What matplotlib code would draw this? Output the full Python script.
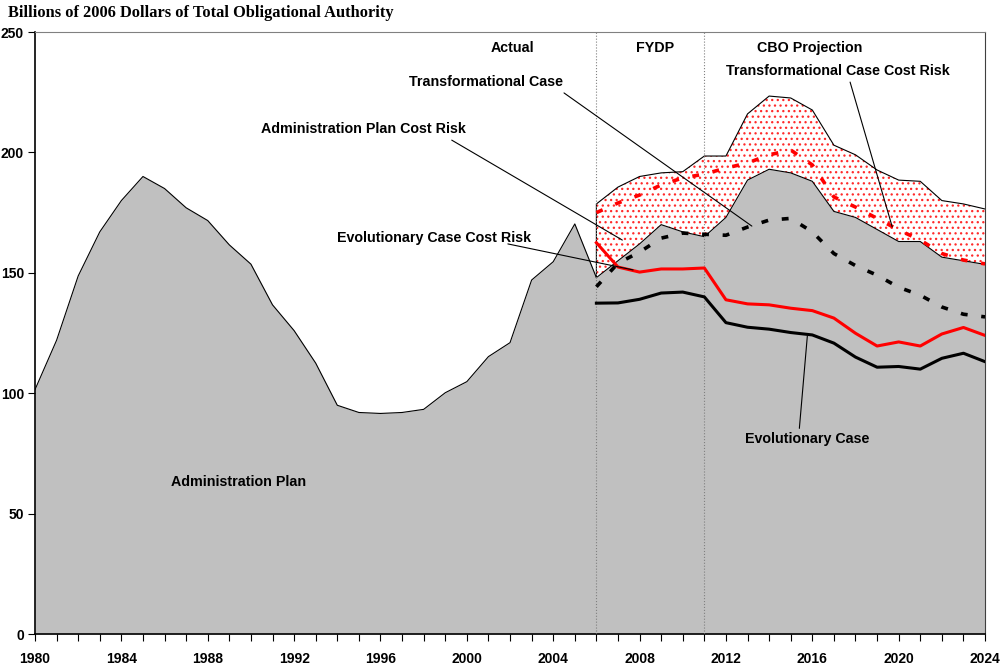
import matplotlib
matplotlib.use('Agg')
import matplotlib.pyplot as plt
import numpy as np

# Administration Plan (gray area), 1980-2024
years = np.arange(1980, 2025)
admin_plan = [101.5, 122, 148.7, 167, 180, 190, 185, 177, 171.7, 161.6,
              153.6, 136.7, 126, 112.5, 95, 92, 91.6, 92, 93.3, 100.2,
              104.8, 115.2, 121, 147, 154.6, 170.3, 148, 155, 162, 170,
              167, 165, 173, 188.5, 193, 191.5, 188, 175.5, 173, 168,
              163, 163, 156.5, 155, 153.5]

# projection period 2006-2024
proj_years = np.arange(2006, 2025)
admin_cost_risk_top = [178.6, 185.6, 190, 191.5, 192, 198.5, 198.5, 216, 223.4, 222.6,
                       217.6, 203, 199, 192.7, 188.5, 188, 180, 178.6, 176.5]
transf_cost_risk = [175, 179, 182.3, 186.5, 189.4, 191, 193.5, 195.6, 199, 201,
                    194.8, 181.5, 177.3, 172.6, 167.8, 163.6, 158, 155.3, 153.7]
transf_case = [144.2, 154, 158.6, 164.4, 166.5, 166, 165.6, 169, 171.9, 172.6,
               167, 158, 153, 149, 144, 140.7, 135.8, 132.8, 131.7]
evol_cost_risk = [162.5, 152.4, 150.3, 151.6, 151.6, 152, 138.8, 137.1, 136.7, 135.3,
                  134.3, 131.2, 124.9, 119.6, 121.3, 119.6, 124.6, 127.3, 124]
evol_case = [137.4, 137.5, 139, 141.6, 142, 140, 129.3, 127.4, 126.6, 125.2,
             124.2, 120.8, 115, 110.8, 111.1, 110, 114.5, 116.6, 113.1]

period_breaks = [2006, 2011]

plt.rcParams['hatch.linewidth'] = 0.9
lab_font = dict(family='Liberation Sans', fontweight='bold', fontsize=10.3)

fig = plt.figure(figsize=(10.03, 6.71), dpi=100)
ax = fig.add_axes([0.0349, 0.0551, 0.9472, 0.8972])

admin = np.array(admin_plan)
proj_admin = admin[years >= 2006]

# gray area
ax.fill_between(years, 0, admin, color='#C0C0C0', lw=0, zorder=1)
ax.plot(years, admin, color='black', lw=0.8, zorder=2)

# cost risk band (dotted red)
ax.fill_between(proj_years, proj_admin, admin_cost_risk_top, facecolor='white',
                edgecolor='#FF2A2A', hatch='...', lw=0, zorder=1)
ax.plot(np.r_[proj_years[0], proj_years], np.r_[proj_admin[0], admin_cost_risk_top],
        color='black', lw=0.8, zorder=2)

for b in period_breaks:
    ax.axvline(b, color='#808080', ls=':', lw=0.8, zorder=3)

dash = (0, (1.9, 3.8))
ax.plot(proj_years, transf_cost_risk, color='red', lw=2.6, ls=dash, zorder=4)
ax.plot(proj_years, transf_case, color='black', lw=2.6, ls=dash, zorder=4)
ax.plot(proj_years, evol_cost_risk, color='red', lw=2.2, zorder=4)
ax.plot(proj_years, evol_case, color='black', lw=2.2, zorder=4)

# labels
ax.text(2002.1, 243.4, 'Actual', ha='center', va='center', **lab_font)
ax.text(2008.7, 243.4, 'FYDP', ha='center', va='center', **lab_font)
ax.text(2015.9, 243.4, 'CBO Projection', ha='center', va='center', **lab_font)
ax.text(2017.2, 233.8, 'Transformational Case Cost Risk', ha='center', va='center', **lab_font)
ax.text(2000.9, 229.2, 'Transformational Case', ha='center', va='center', **lab_font)
ax.text(1995.2, 209.7, 'Administration Plan Cost Risk', ha='center', va='center', **lab_font)
ax.text(1998.5, 164.5, 'Evolutionary Case Cost Risk', ha='center', va='center', **lab_font)
ax.text(2015.75, 81, 'Evolutionary Case', ha='center', va='center', **lab_font)
ax.text(1989.45, 63.1, 'Administration Plan', ha='center', va='center', **lab_font)

# leader lines
leaders = [((2004.5, 224.7), (2013.2, 169.4)),
           ((1999.3, 205.1), (2007.2, 163.6)),
           ((2001.9, 162.0), (2007.7, 151.2)),
           ((2017.75, 229.2), (2019.7, 169.1)),
           ((2015.77, 123.8), (2015.4, 85.4))]
for start, end in leaders:
    ax.annotate('', xy=end, xytext=start,
                arrowprops=dict(arrowstyle='-', color='black', lw=0.8,
                                shrinkA=0, shrinkB=0), zorder=5)

ax.set_xlim(1980, 2024)
ax.set_ylim(0, 250)
ax.set_xticks(np.arange(1980, 2025, 1))
ax.set_xticklabels([str(y) if (y - 1980) % 4 == 0 else '' for y in range(1980, 2025)])
ax.set_yticks(np.arange(0, 251, 50))
ax.tick_params(axis='both', direction='out', length=5, width=0.8, color='black')
ax.tick_params(axis='x', pad=8)
ax.tick_params(axis='y', pad=3)
for lbl in ax.get_xticklabels() + ax.get_yticklabels():
    lbl.set_family(['Liberation Sans Narrow', 'Liberation Sans'])
    lbl.set_fontweight('bold')
    lbl.set_fontsize(10)

ax.spines['left'].set_color('black')
ax.spines['bottom'].set_color('black')
ax.spines['left'].set_linewidth(1.2)
ax.spines['bottom'].set_linewidth(1.2)
ax.spines['top'].set_color('#808080')
ax.spines['right'].set_color('#404040')

fig.text(0.008, 0.981, 'Billions of 2006 Dollars of Total Obligational Authority',
         family='Liberation Serif', fontweight='bold', fontsize=11.8, va='center')

fig.savefig('out.png', dpi=100)
